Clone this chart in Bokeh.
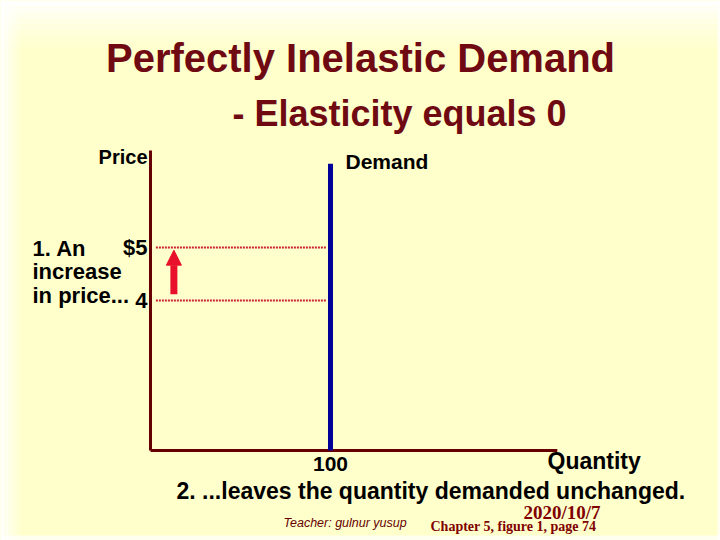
from bokeh.plotting import figure
from bokeh.models import Range1d, Label, Arrow, NormalHead, BoxAnnotation
from bokeh.embed import file_html
from bokeh.resources import INLINE

# ---- data ----
prices = [5, 4]
price_labels = ["$5", "4"]
quantity = 100
quantity_label = "100"
demand_top_price = 6.58
arrow_q = 13
q_axis = [0, 226]
p_axis = [1.17, 6.83]

W, H = 720, 540
XR = (-83.33, 316.67)
YR = (-0.528, 9.660)
PX_Q = 1.8      # pixels per quantity unit
PX_P = 53.0     # pixels per price unit

BG = "#FFFFCC"
AXIS = "#660000"
TITLE = "#700A12"

p = figure(width=W, height=H, output_backend="svg", toolbar_location=None,
           x_range=Range1d(*XR), y_range=Range1d(*YR),
           x_axis_location=None, y_axis_location=None, min_border=0, tools="")
p.background_fill_color = BG
p.border_fill_color = BG
p.outline_line_color = None
p.grid.visible = False

# soft white edges of the slide background
for i, a in enumerate([0.95, 0.8, 0.65, 0.5, 0.38, 0.27, 0.17, 0.08]):
    p.add_layout(BoxAnnotation(top=YR[1] - i * 6 / PX_P, bottom=YR[1] - (i + 1) * 6 / PX_P,
                               fill_color="white", fill_alpha=a, line_color=None,
                               level="underlay"))
for i, a in enumerate([0.9, 0.7, 0.5, 0.32, 0.16]):
    p.add_layout(BoxAnnotation(left=XR[0] + i * 4 / PX_Q, right=XR[0] + (i + 1) * 4 / PX_Q,
                               fill_color="white", fill_alpha=a, line_color=None,
                               level="underlay"))
p.add_layout(BoxAnnotation(bottom=YR[0], top=YR[0] + 5 / PX_P, fill_color="white",
                           fill_alpha=0.7, line_color=None, level="underlay"))
p.add_layout(BoxAnnotation(left=XR[1] - 3 / PX_Q, right=XR[1], fill_color="white",
                           fill_alpha=0.7, line_color=None, level="underlay"))

# axes
p.line([q_axis[0], q_axis[0]], p_axis, line_color=AXIS, line_width=3)
p.line(q_axis, [p_axis[0], p_axis[0]], line_color=AXIS, line_width=3)

# dotted price lines
for pr in prices:
    p.line([3, quantity - 2], [pr, pr], line_color="#CC2233", line_width=2,
           line_dash="2 1")

# demand curve
p.line([quantity, quantity], [p_axis[0], demand_top_price], line_color="#000099", line_width=5)

# tick labels
p.text(x=[q_axis[0]] * len(prices), y=prices, text=price_labels, x_offset=-3,
       text_align="right", text_baseline="middle", text_font_size="22px",
       text_font_style="bold", text_color="black", text_font={"value": "Liberation Sans"})
p.text(x=[quantity], y=[p_axis[0]], text=[quantity_label], y_offset=6,
       text_align="center", text_baseline="top", text_font_size="21px",
       text_font_style="bold", text_color="black", text_font={"value": "Liberation Sans"})

# arrow
p.add_layout(Arrow(end=NormalHead(size=15, fill_color="#E8102A", line_color="#E8102A"),
                   x_start=arrow_q, y_start=prices[1] + 0.12,
                   x_end=arrow_q, y_end=prices[0] - 0.05,
                   line_color="#E8102A", line_width=7))


def lab(text, rx, ry, size, color="black", align="left", style="bold",
        font="Liberation Sans"):
    p.add_layout(Label(x=rx, y=H - ry + 0.38 * size, x_units="screen", y_units="screen",
                       text=text, text_font=font, text_font_size=f"{size}px",
                       text_font_style=style, text_color=color, text_align=align,
                       text_baseline="alphabetic"))


lab("Perfectly Inelastic Demand", 360, 73, 40, TITLE, "center")
lab("- Elasticity equals 0", 232, 127, 36, TITLE, "left")
lab("Price", 147, 164, 20, "black", "right")
lab("Demand", 345, 169, 21, "black", "left")
lab("1. An", 32, 256, 22)
lab("increase", 32, 279, 22)
lab("in price...", 32, 303, 22)
lab("Quantity", 547, 469, 23)
lab("2. ...leaves the quantity demanded unchanged.", 176, 499, 23)
lab("Teacher: gulnur  yusup", 283, 527, 12.5, "#660000", "left", "italic")
lab("2020/10/7", 600, 519, 19, "#800000", "right", "bold", "Liberation Serif")
lab("Chapter 5, figure 1, page 74", 430, 531, 14, "#800000", "left", "bold",
    "Liberation Serif")

open("out.html", "w").write(file_html(p, INLINE))
